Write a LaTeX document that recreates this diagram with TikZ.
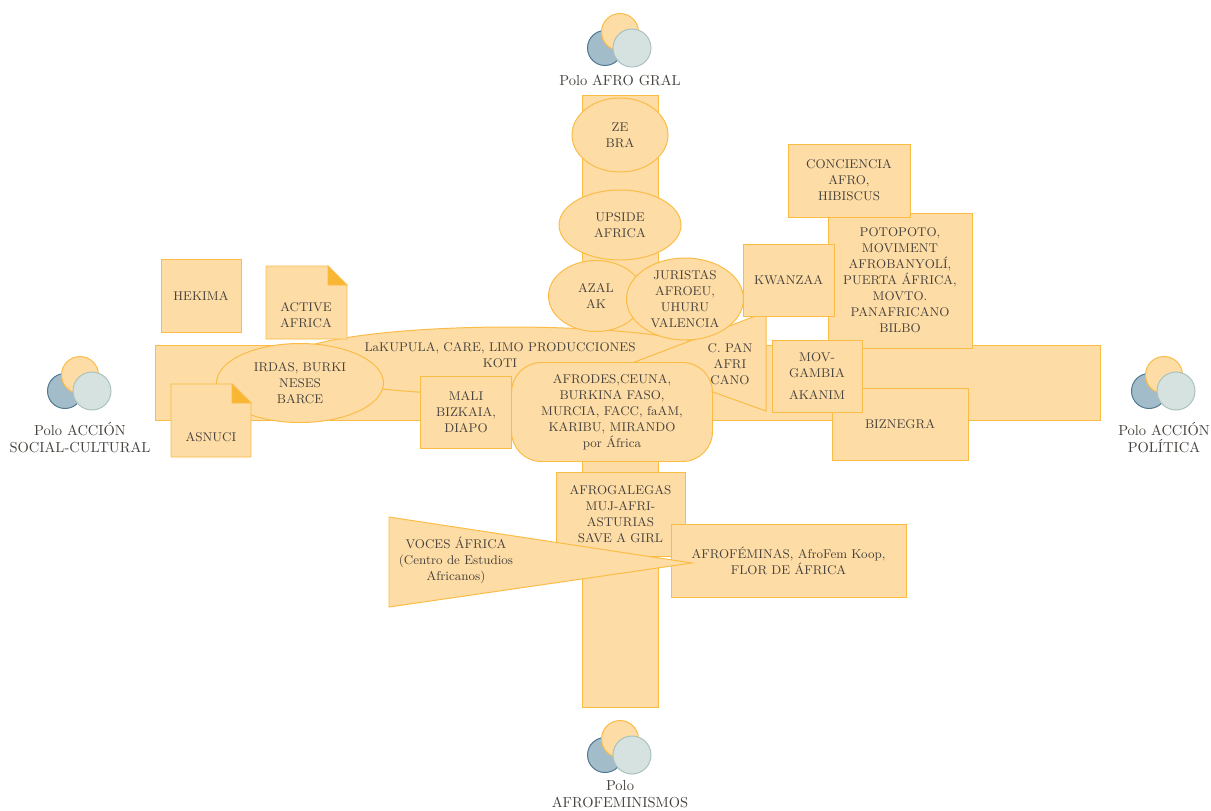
\documentclass[tikz,border=0pt]{standalone}
\usepackage{fontspec}
\usetikzlibrary{shapes.geometric}

\definecolor{boxfill}{HTML}{FDDCA6}
\definecolor{boxline}{HTML}{FBBC45}
\definecolor{foldc}{HTML}{F9B633}
\definecolor{txtc}{HTML}{46413C}
\definecolor{bluefill}{HTML}{A3BCC9}
\definecolor{blueline}{HTML}{4E7891}
\definecolor{palefill}{HTML}{D5E2E0}
\definecolor{paleline}{HTML}{A9C2BD}

\newcommand\diagfont{\fontsize{9}{11.4}\selectfont}
\newcommand\polofont{\fontsize{10.3}{12}\selectfont}

\tikzset{
  polo/.pic={
    \filldraw[fill=bluefill, draw=blueline, line width=0.7pt] (-15,0) circle[radius=17.5];
    \filldraw[fill=boxfill, draw=boxline, line width=0.7pt] (0,-16) circle[radius=18.5];
    \filldraw[fill=palefill, draw=paleline, line width=0.7pt] (12,0) circle[radius=19];
  }
}

\begin{document}
\begin{tikzpicture}[x=0.025cm, y=-0.025cm,
  sz/.style 2 args={minimum width=#1*0.025cm, minimum height=#2*0.025cm},
  shp/.style={draw=boxline, fill=boxfill, line width=0.7pt},
  box/.style={shp, inner sep=0pt, align=center, text=txtc, font=\diagfont},
  oval/.style={box, ellipse},
  txt/.style={inner sep=0pt, align=center, text=txtc, font=\diagfont},
  polotxt/.style={inner sep=0pt, align=center, text=txtc, font=\polofont},
]
\useasboundingbox (0,0) rectangle (1211,810);

% axes
\node[box, sz={945}{75}] (hbar) at (627.5,382.5) {};
\node[box, sz={76}{612}] (vbar) at (620,401) {};

% upper branch
\node[oval, sz={96}{74}] (zebra) at (620,135) {ZE\\BRA};
\node[oval, sz={122}{70}] (upside) at (620,225) {UPSIDE\\AFRICA};

% centre
\node[oval, sz={450}{68}] (lakupula) at (510,361) {};
\node[txt] (lakupulatxt) at (500,355) {LaKUPULA, CARE, LIMO PRODUCCIONES\\KOTI};
\node[oval, sz={167}{79}] (irdas) at (300,383) {IRDAS, BURKI\\NESES\\BARCE};
\filldraw[shp] (632,363) -- (766,312) -- (766,411) -- cycle;
\node[txt] (cpan) at (730,364) {C. PAN\\AFRI\\CANO};
\node[oval, sz={95}{71}] (azal) at (596,296) {AZAL\\AK};
\node[oval, sz={117}{82}] (juristas) at (685,299) {JURISTAS\\AFROEU,\\UHURU\\VALENCIA};
\node[box, sz={201}{99}, rounded corners=0.75cm] (afrodes) at (612,412)
  {AFRODES,CEUNA,\\BURKINA FASO,\\MURCIA, FACC, faAM,\\KARIBU, MIRANDO\\por África};
\node[box, sz={91}{72}] (mali) at (466,412) {MALI\\BIZKAIA,\\DIAPO};

% left
\node[box, sz={80}{73}] (hekima) at (201,296) {HEKIMA};
\filldraw[shp] (266,266) -- (328,266) -- (347,285) -- (347,339) -- (266,339) -- cycle;
\filldraw[fill=foldc, draw=boxline, line width=0.7pt] (328,266) -- (347,285) -- (328,285) -- cycle;
\node[txt] (active) at (306,315) {ACTIVE\\AFRICA};
\filldraw[shp] (171,384) -- (232,384) -- (251,403) -- (251,457) -- (171,457) -- cycle;
\filldraw[fill=foldc, draw=boxline, line width=0.7pt] (232,384) -- (251,403) -- (232,403) -- cycle;
\node[txt] (asnuci) at (211,437) {ASNUCI};

% right
\node[box, sz={144}{135}] (potopoto) at (900,280.5)
  {POTOPOTO,\\MOVIMENT\\AFROBANYOLÍ,\\PUERTA ÁFRICA,\\MOVTO.\\PANAFRICANO\\BILBO};
\node[box, sz={122}{73}] (conciencia) at (849,180.5) {CONCIENCIA\\AFRO,\\HIBISCUS};
\node[box, sz={91}{72}] (kwanzaa) at (788.5,280) {KWANZAA};
\node[box, sz={136}{72}] (biznegra) at (900,424) {BIZNEGRA};
\node[box, sz={90}{72}] (movgambia) at (817,376) {MOV-\\GAMBIA\\[4pt]AKANIM};

% lower branch
\node[box, sz={129}{84}] (afrogalegas) at (620.5,514) {AFROGALEGAS\\MUJ-AFRI-\\ASTURIAS\\SAVE A GIRL};
\node[box, sz={235}{73}] (afrofem) at (788.5,561) {AFROFÉMINAS, AfroFem Koop,\\FLOR DE ÁFRICA};
\filldraw[shp] (389,517) -- (692,563) -- (389,607) -- cycle;
\node[txt] (voces) at (456,560) {VOCES ÁFRICA\\(Centro de Estudios\\Africanos)};

% poles
\pic at (620,48) {polo};
\node[polotxt] (pologral) at (620,80) {Polo AFRO GRAL};
\pic at (80,391) {polo};
\node[polotxt] (polosocial) at (80,437.5) {Polo ACCIÓN\\SOCIAL-CULTURAL};
\pic at (1164,391) {polo};
\node[polotxt] (polopolitica) at (1164,437.5) {Polo ACCIÓN\\POLÍTICA};
\pic at (620,755) {polo};
\node[polotxt] (polofem) at (620,794) {Polo\\AFROFEMINISMOS};
\end{tikzpicture}
\end{document}
